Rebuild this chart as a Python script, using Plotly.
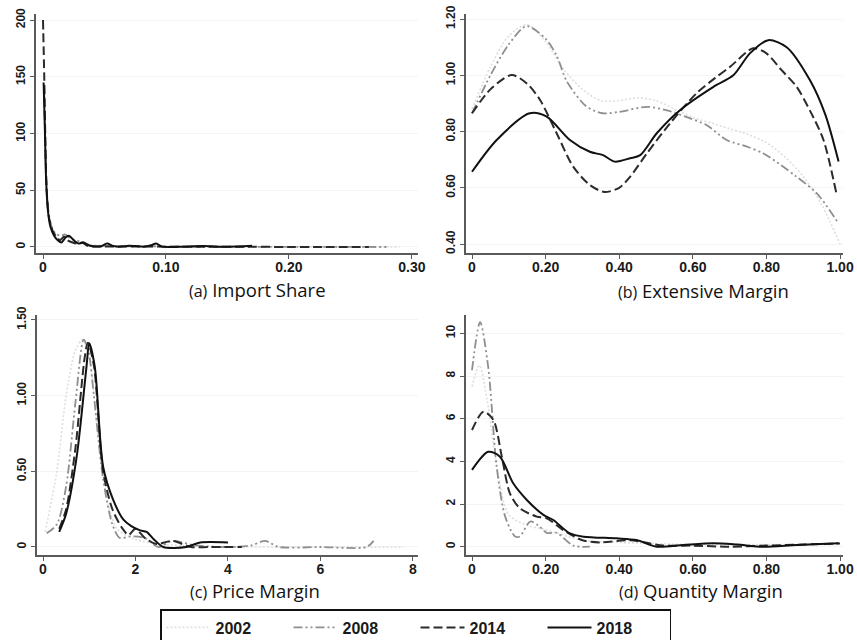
import plotly.graph_objects as go

years = ["2002", "2008", "2014", "2018"]

# (a) Import Share
a_x = {
    "2002": [0.001, 0.002, 0.004, 0.007, 0.01, 0.015, 0.02, 0.03, 0.04, 0.06, 0.1, 0.15, 0.2, 0.25, 0.29],
    "2008": [0.001, 0.002, 0.004, 0.007, 0.01, 0.014, 0.018, 0.022, 0.026, 0.03, 0.035, 0.04, 0.05, 0.06, 0.075, 0.09, 0.12, 0.2, 0.28],
    "2014": [0.0, 0.001, 0.002, 0.003, 0.005, 0.008, 0.011, 0.014, 0.017, 0.02, 0.024, 0.028, 0.032, 0.036, 0.045, 0.06, 0.08, 0.1, 0.13, 0.17, 0.2, 0.23, 0.265],
    "2018": [0.0005, 0.0015, 0.0025, 0.004, 0.006, 0.009, 0.012, 0.015, 0.018, 0.021, 0.025, 0.029, 0.033, 0.037, 0.042, 0.047, 0.052, 0.057, 0.062, 0.07, 0.075, 0.082, 0.088, 0.092, 0.097, 0.11, 0.13, 0.15, 0.17],
}
a_y = {
    "2002": [120, 70, 30, 15, 9, 7, 5, 4, 2, 1, 0.5, 0.3, 0.2, 0.1, 0],
    "2008": [140, 80, 35, 18, 12, 10, 11, 8, 6, 5, 3, 1, 1, 0.5, 0.5, 0.5, 0.2, 0.1, 0],
    "2014": [200, 150, 90, 50, 25, 14, 9, 6, 9, 6, 4, 3, 4, 1, 0.5, 0.5, 0.5, 0.3, 0.3, 0.2, 0, 0, 0],
    "2018": [145, 105, 60, 32, 18, 10, 6, 4, 8, 10, 6, 3, 4, 1.5, 0.5, 0.5, 3, 1, 0.2, 1, 0.8, 0.3, 1.5, 3, 0.3, 0.2, 0.8, 0.2, 1],
}

# (b) Extensive Margin
b_x = {
    "2002": [0, 0.05, 0.1, 0.15, 0.2, 0.25, 0.3, 0.35, 0.4, 0.45, 0.5, 0.55, 0.6, 0.65, 0.7, 0.75, 0.8, 0.85, 0.9, 0.95, 1.0],
    "2008": [0, 0.05, 0.1, 0.148, 0.2, 0.23, 0.257, 0.31, 0.355, 0.4, 0.475, 0.53, 0.58, 0.637, 0.692, 0.75, 0.792, 0.84, 0.882, 0.937, 0.996],
    "2014": [0, 0.05, 0.108, 0.15, 0.185, 0.23, 0.275, 0.32, 0.36, 0.4, 0.43, 0.475, 0.538, 0.61, 0.66, 0.701, 0.764, 0.8, 0.84, 0.882, 0.92, 0.955, 0.99],
    "2018": [0, 0.067, 0.157, 0.203, 0.266, 0.32, 0.356, 0.388, 0.43, 0.457, 0.502, 0.565, 0.656, 0.71, 0.755, 0.805, 0.855, 0.918, 0.96, 0.996],
}
b_y = {
    "2002": [0.88, 1.03, 1.14, 1.18, 1.12, 1.02, 0.95, 0.91, 0.91, 0.92, 0.91, 0.88, 0.85, 0.83, 0.81, 0.79, 0.76, 0.71, 0.64, 0.54, 0.40],
    "2008": [0.865, 1.0, 1.11, 1.175, 1.13, 1.07, 0.98, 0.89, 0.865, 0.87, 0.888, 0.875, 0.853, 0.823, 0.77, 0.745, 0.722, 0.68, 0.639, 0.58, 0.473],
    "2014": [0.865, 0.95, 1.001, 0.97, 0.912, 0.794, 0.675, 0.61, 0.585, 0.6, 0.64, 0.722, 0.829, 0.936, 0.99, 1.03, 1.096, 1.078, 1.02, 0.959, 0.87, 0.77, 0.58],
    "2018": [0.657, 0.77, 0.865, 0.853, 0.77, 0.728, 0.716, 0.693, 0.705, 0.716, 0.794, 0.876, 0.959, 1.0, 1.078, 1.125, 1.10, 0.983, 0.86, 0.693],
}

# (c) Price Margin
c_x = {
    "2002": [0.05, 0.3, 0.5, 0.7, 0.85, 1.0, 1.2, 1.4, 1.6, 2.0, 2.5, 3.0, 4.0, 5.0, 6.0, 7.0, 7.8],
    "2008": [0.08, 0.3, 0.5, 0.7, 0.88, 0.98, 1.1, 1.3, 1.5, 1.66, 1.9, 2.2, 2.5, 2.8, 3.3, 4.0, 4.5, 4.8, 5.1, 6.0, 7.0, 7.15],
    "2014": [0.35, 0.5, 0.7, 0.9, 0.97, 1.1, 1.3, 1.5, 1.7, 1.85, 2.0, 2.2, 2.45, 2.8, 3.2, 3.6, 4.3],
    "2018": [0.35, 0.5, 0.73, 0.94, 1.0, 1.12, 1.3, 1.52, 1.74, 1.9, 2.1, 2.24, 2.4, 2.6, 3.1, 3.4, 4.0],
}
c_y = {
    "2002": [0.1, 0.5, 1.0, 1.3, 1.37, 1.25, 0.7, 0.3, 0.12, 0.05, 0.02, 0.01, 0.0, 0.0, 0.0, 0.0, 0.0],
    "2008": [0.09, 0.15, 0.4, 0.95, 1.37, 1.3, 1.0, 0.45, 0.15, 0.06, 0.07, 0.06, 0.0, 0.04, 0.01, 0.0, 0.01, 0.04, 0.0, 0.0, 0.0, 0.04],
    "2014": [0.12, 0.25, 0.65, 1.25, 1.35, 1.2, 0.5, 0.25, 0.13, 0.08, 0.12, 0.06, 0.02, 0.04, 0.0, 0.0, 0.0],
    "2018": [0.10, 0.22, 0.60, 1.19, 1.346, 1.19, 0.53, 0.31, 0.18, 0.14, 0.11, 0.10, 0.05, 0.0, 0.0, 0.03, 0.03],
}

# (d) Quantity Margin
d_x = {
    "2002": [0, 0.02, 0.04, 0.07, 0.1, 0.15, 0.2, 0.3, 0.4, 0.6, 0.8, 1.0],
    "2008": [0, 0.022, 0.044, 0.067, 0.09, 0.117, 0.13, 0.158, 0.18, 0.203, 0.23, 0.275, 0.32],
    "2014": [0, 0.031, 0.058, 0.081, 0.103, 0.13, 0.176, 0.203, 0.248, 0.3, 0.35, 0.43, 0.52, 0.6, 0.7, 0.8, 0.9, 1.0],
    "2018": [0, 0.044, 0.076, 0.112, 0.149, 0.194, 0.221, 0.266, 0.303, 0.393, 0.447, 0.502, 0.574, 0.656, 0.72, 0.79, 0.882, 0.996],
}
d_y = {
    "2002": [7.5, 8.5, 7.0, 3.5, 1.5, 1.0, 0.8, 0.3, 0.2, 0.1, 0.1, 0.1],
    "2008": [8.27, 10.53, 8.43, 3.75, 1.42, 0.48, 0.48, 1.18, 1.0, 0.65, 0.65, 0.05, 0.0],
    "2014": [5.47, 6.33, 5.94, 4.22, 2.5, 1.8, 1.41, 1.33, 0.78, 0.3, 0.2, 0.3, 0.05, 0.05, 0.0, 0.05, 0.1, 0.15],
    "2018": [3.6, 4.45, 4.22, 2.97, 2.19, 1.49, 1.25, 0.62, 0.47, 0.39, 0.31, 0.0, 0.08, 0.16, 0.1, 0.0, 0.08, 0.16],
}

panel_titles = ["(a)", "Import Share", "(b)", "Extensive Margin", "(c)", "Price Margin", "(d)", "Quantity Margin"]

a_xticks = [0, 0.1, 0.2, 0.3]; a_xlabels = ["0", "0.10", "0.20", "0.30"]
a_yticks = [0, 50, 100, 150, 200]; a_ylabels = ["0", "50", "100", "150", "200"]
b_xticks = [0, 0.2, 0.4, 0.6, 0.8, 1.0]; b_xlabels = ["0", "0.20", "0.40", "0.60", "0.80", "1.00"]
b_yticks = [0.4, 0.6, 0.8, 1.0, 1.2]; b_ylabels = ["0.40", "0.60", "0.80", "1.00", "1.20"]
c_xticks = [0, 2, 4, 6, 8]; c_xlabels = ["0", "2", "4", "6", "8"]
c_yticks = [0, 0.5, 1.0, 1.5]; c_ylabels = ["0", "0.50", "1.00", "1.50"]
d_xticks = [0, 0.2, 0.4, 0.6, 0.8, 1.0]; d_xlabels = ["0", "0.20", "0.40", "0.60", "0.80", "1.00"]
d_yticks = [0, 2, 4, 6, 8, 10]; d_ylabels = ["0", "2", "4", "6", "8", "10"]

styles = {
    "2002": dict(color="#dedede", dash="2px,2px", width=1.6),
    "2008": dict(color="#8f8f8f", dash="9px,3px,2px,3px,2px,3px", width=1.8),
    "2014": dict(color="#2b2b2b", dash="9px,4px", width=2.0),
    "2018": dict(color="#111111", dash="solid", width=2.0),
}

W, H = 857, 640
fig = go.Figure()

panels = [
    (a_x, a_y, "x", "y"),
    (b_x, b_y, "x2", "y2"),
    (c_x, c_y, "x3", "y3"),
    (d_x, d_y, "x4", "y4"),
]
for pi, (px, py, xa, ya) in enumerate(panels):
    for yr in years:
        fig.add_trace(go.Scatter(
            x=px[yr], y=py[yr], mode="lines", name=yr,
            line=dict(shape="spline", smoothing=0.8, **styles[yr]),
            xaxis=xa, yaxis=ya, legendgroup=yr, showlegend=(pi == 0),
            hoverinfo="skip",
        ))

def px2paperx(p):
    return p / W

def px2papery(p):
    return 1 - p / H

axis_common = dict(
    showline=True, linecolor="#5a5a5a", linewidth=1.5,
    ticks="outside", ticklen=4, tickwidth=1.3, tickcolor="#5a5a5a",
    zeroline=False,
)
xfont = dict(family="Liberation Sans", size=14, color="#1a1a1a", weight="bold")
yfont = dict(family="Liberation Sans", size=12, color="#1a1a1a", weight="bold")

def xaxis(domain_px, rng, tv, tt, anchor):
    return dict(domain=[px2paperx(domain_px[0]), px2paperx(domain_px[1])], range=rng,
                tickvals=tv, ticktext=tt, tickfont=xfont, showgrid=False,
                ticklabelstandoff=-4,
                anchor=anchor, **axis_common)

def yaxis(domain_px, rng, tv, tt, anchor):
    return dict(domain=[px2papery(domain_px[1]), px2papery(domain_px[0])], range=rng,
                tickvals=tv, ticktext=tt, tickfont=yfont, tickangle=-90,
                showgrid=True, gridcolor="#f4f4f4", gridwidth=1,
                anchor=anchor, **axis_common)

fig.update_layout(
    width=W, height=H,
    margin=dict(l=0, r=0, t=0, b=0, autoexpand=False),
    paper_bgcolor="white", plot_bgcolor="white",
    showlegend=True,
    xaxis=xaxis((36, 418), [-0.0057, 0.305], a_xticks, a_xlabels, "y"),
    yaxis=yaxis((14, 253), [-5.3, 205.3], a_yticks, a_ylabels, "x"),
    xaxis2=xaxis((466, 843), [-0.0163, 1.008], b_xticks, b_xlabels, "y2"),
    yaxis2=yaxis((14, 253), [0.368, 1.218], b_yticks, b_ylabels, "x2"),
    xaxis3=xaxis((37, 418), [-0.13, 8.11], c_xticks, c_xlabels, "y3"),
    yaxis3=yaxis((315, 555), [-0.053, 1.533], c_yticks, c_ylabels, "x3"),
    xaxis4=xaxis((466, 843), [-0.0163, 1.008], d_xticks, d_xlabels, "y4"),
    yaxis4=yaxis((315, 555), [-0.39, 10.86], d_yticks, d_ylabels, "x4"),
    legend=dict(
        orientation="h", x=px2paperx(160), y=px2papery(609),
        xanchor="left", yanchor="top",
        bordercolor="#111111", borderwidth=1.5, bgcolor="white",
        font=dict(family="Liberation Sans", size=16, color="#1a1a1a", weight="bold"),
        entrywidth=68, entrywidthmode="pixels", itemwidth=44,
        traceorder="normal",
    ),
)

title_pos = [(257, 289), (703, 290), (255, 590), (701, 590)]
for i, (cx, cy) in enumerate(title_pos):
    lab = "<span style='font-size:16px'>" + panel_titles[2 * i] + "</span> " + panel_titles[2 * i + 1]
    fig.add_annotation(
        x=px2paperx(cx), y=px2papery(cy), xref="paper", yref="paper",
        text=lab, showarrow=False, xanchor="center", yanchor="middle",
        font=dict(family="Open Sans", size=18.5, color="#111111"),
    )

fig.write_html("out.html")
